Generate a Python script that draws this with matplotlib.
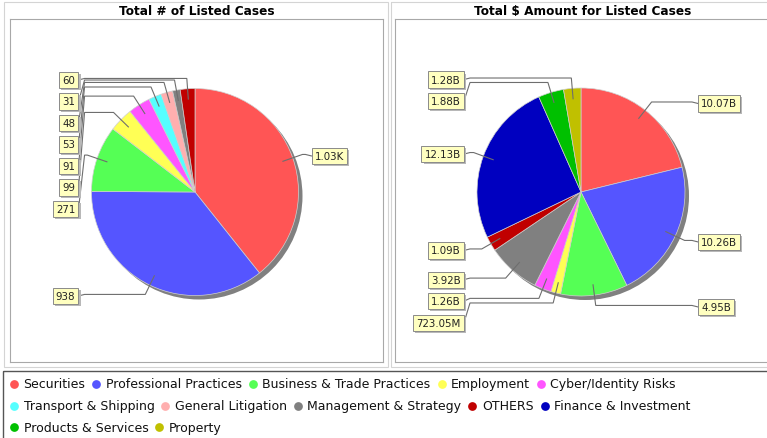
import math
import matplotlib
matplotlib.use("Agg")
import matplotlib.pyplot as plt
from matplotlib.patches import Circle, Rectangle
from matplotlib import patheffects as pe

# ---------------- data ----------------
categories = ["Securities", "Professional Practices", "Business & Trade Practices",
              "Employment", "Cyber/Identity Risks", "Transport & Shipping",
              "General Litigation", "Management & Strategy", "OTHERS",
              "Finance & Investment", "Products & Services", "Property"]
colors = ["#FF5555", "#5555FF", "#55FF55", "#FFFF55", "#FF55FF", "#55FFFF",
          "#FFAFAF", "#808080", "#C00000", "#0000C0", "#00C000", "#C0C000"]

case_counts = [1030, 938, 271, 99, 91, 53, 48, 31, 60, 0, 0, 0]
case_amounts = [10.07e9, 10.26e9, 4.95e9, 723.05e6, 1.26e9, 0, 0,
                3.92e9, 1.09e9, 12.13e9, 1.88e9, 1.28e9]
titles = ["Total # of Listed Cases", "Total $ Amount for Listed Cases"]

# ---------------- layout ----------------
W, H = 767, 439
fig = plt.figure(figsize=(W / 100, H / 100), dpi=100)
fig.patch.set_facecolor("white")

bg = fig.add_axes([0, 0, 1, 1], zorder=0)
bg.set_xlim(0, W)
bg.set_ylim(H, 0)
bg.axis("off")

LABEL_FS = 7.4
LINE_C = "#6e6e6e"


def fmt(v):
    if v >= 1e9:
        return f"{v / 1e9:.2f}B"
    if v >= 1e6:
        return f"{v / 1e6:.2f}M"
    if v >= 1e3:
        return f"{v / 1e3:.2f}K"
    return f"{v:.0f}"


def draw_pie(rect_px, outer_px, center_px, R, values, title):
    x0, y0, x1, y1 = rect_px
    ox0, oy0, ox1, oy1 = outer_px
    bg.add_patch(Rectangle((ox0, oy0), ox1 - ox0, oy1 - oy0, fill=False,
                           ec="#d4d4d4", lw=0.8))
    bg.text((x0 + x1) / 2, 11.5, title, ha="center", va="center",
            fontsize=8.7, fontweight="bold", color="black")

    ax = fig.add_axes([x0 / W, 1 - y1 / H, (x1 - x0) / W, (y1 - y0) / H], zorder=1)
    idx = [i for i, v in enumerate(values) if v > 0]
    vals = [values[i] for i in idx]
    cols = [colors[i] for i in idx]
    wedges, _ = ax.pie(vals, colors=cols, startangle=90, counterclock=False,
                       radius=1.0, center=(0, 0),
                       wedgeprops=dict(edgecolor="#d0d0d0", linewidth=0.5, zorder=2))
    ax.set_aspect("auto")
    cx, cy = center_px
    ax.set_xlim((x0 - cx) / R, (x1 - cx) / R)
    ax.set_ylim(-(y1 - cy) / R, (cy - y0) / R)
    ax.set_frame_on(True)
    ax.set_facecolor("white")
    for s in ax.spines.values():
        s.set_color("#a8a8a8")
        s.set_linewidth(0.8)
    ax.add_patch(Circle((4 / R, -4 / R), 1.0, fc="#808080", ec="none", zorder=1))

    items = []
    for w, i in zip(wedges, idx):
        mid = math.radians((w.theta1 + w.theta2) / 2)
        items.append((math.cos(mid), math.sin(mid), fmt(values[i])))

    sp = 21.5 / R
    xe_abs = 1.125
    gap = 6 / R
    pad_d = 3.2 / R
    for side in (-1, 1):
        sel = [it for it in items if (it[0] < 0) == (side < 0)]
        sel.sort(key=lambda t: -t[1])
        prev = None
        for ux, uy, lab in sel:
            ly = 1.1 * uy - 1.5 / R
            if prev is not None:
                ly = min(ly, prev - sp)
            prev = ly
            xe = side * xe_abs
            xs = [0.9 * ux, 1.1 * ux, xe - side * gap, xe]
            ys = [0.9 * uy, 1.1 * uy, 1.1 * uy, ly]
            ax.plot(xs, ys, color=LINE_C, lw=0.8, zorder=3, solid_joinstyle="miter")
            tx = xe + side * pad_d
            ha = "left" if side > 0 else "right"
            t = ax.text(tx, ly, lab, ha=ha, va="center", fontsize=LABEL_FS,
                        color="#222222", zorder=5,
                        bbox=dict(boxstyle="square,pad=0.3", fc="#FFFFC0",
                                  ec="#8a8a8a", lw=0.7))
            t.get_bbox_patch().set_path_effects([
                pe.SimplePatchShadow(offset=(1.5, -1.5), shadow_rgbFace="#b8b8b8", alpha=1.0),
                pe.Normal()])
    return ax


draw_pie((10, 20, 383, 363), (4, 3, 388, 368), (195, 193), 103.5, case_counts, titles[0])
draw_pie((395, 20, 771, 363), (391, 3, 772, 368), (581, 193), 104.0, case_amounts, titles[1])

# ---------------- legend (flow layout) ----------------
bg.add_patch(Rectangle((3, 372), W, 80, fill=False, ec="#555555", lw=1.0))
renderer = fig.canvas.get_renderer()
row_y = [385, 407, 428.5]
row = 0
x = 14
for name, c in zip(categories, colors):
    t = bg.text(0, 0, name, fontsize=9, va="center", ha="left", color="#111111")
    wpx = t.get_window_extent(renderer=renderer).width
    if x + 10 + wpx > W - 4:
        row += 1
        x = 14
    y = row_y[row]
    bg.plot([x], [y], "o", ms=6.3, color=c, mec="none")
    t.set_position((x + 9.5, y))
    x = x + 9.5 + wpx + 11

fig.savefig("out.png", dpi=100, facecolor="white")
